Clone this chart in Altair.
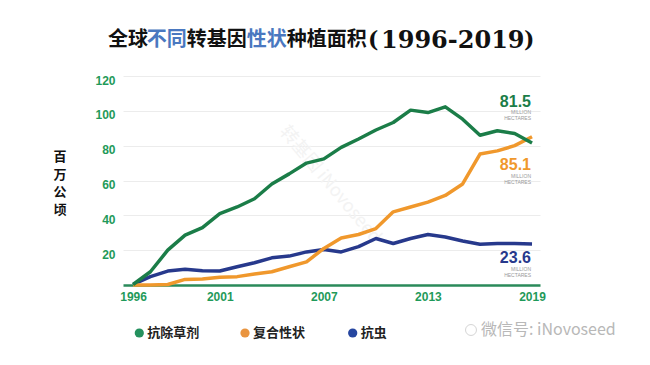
import altair as alt
import pandas as pd

# ---------------- data ----------------
years = list(range(1996, 2020))
herbicide = [0.3, 7.6, 20, 28.6, 33, 41, 44.8, 49.5, 58, 63.8, 70, 72.4, 79, 83.8,
             89, 93.3, 100.4, 99, 102.3, 95.2, 86, 88.6, 87, 81.5]
stacked = [0, 0, 0.3, 3.2, 3.4, 4.4, 4.8, 6.3, 7.6, 10.5, 13.3, 21, 27, 29, 32.4,
           42, 44.8, 47.6, 51.4, 58, 75.2, 77, 80, 85.1]
insect = [0.3, 4.8, 8, 9, 8.2, 8, 10.5, 12.8, 15.6, 16.6, 19, 20.4, 19, 22, 26.7,
          23.8, 26.7, 29, 27.6, 25.3, 23.4, 23.8, 23.8, 23.6]
series_names = ["抗除草剂", "复合性状", "抗虫"]
end_labels = ["81.5", "85.1", "23.6"]
x_ticks = [1996, 2001, 2007, 2013, 2019]
y_ticks = [20, 40, 60, 80, 100, 120]
y_title_chars = ["百", "万", "公", "顷"]

GREEN = "#1b7d48"
ORANGE = "#f0982c"
NAVY = "#27398c"
colors = [GREEN, ORANGE, NAVY]
dot_colors = ["#24915e", "#e9943f", "#2646a0"]
AXIS_GREEN = "#1f9a5a"
TITLE_BLUE = "#4a78c0"
CJK = "Noto Sans CJK SC"

W, H = 417, 209

df = pd.DataFrame({
    "year": years * 3,
    "value": herbicide + stacked + insect,
    "series": [series_names[0]] * len(years) + [series_names[1]] * len(years) + [series_names[2]] * len(years),
})

x_enc = alt.X("year:Q",
              scale=alt.Scale(domain=[1995.42, 2019.46], nice=False, zero=False),
              axis=alt.Axis(values=x_ticks, format="d", title=None, labelColor=AXIS_GREEN,
                            labelFont="Liberation Sans", labelFontWeight="bold", labelFontSize=12,
                            labelPadding=6, ticks=False, grid=False, domainColor="#2a8a5a",
                            domainWidth=2.5, labelFlush=False))
y_enc = alt.Y("value:Q",
              scale=alt.Scale(domain=[0, 120], nice=False),
              axis=alt.Axis(values=y_ticks, title=None, labelColor=AXIS_GREEN,
                            labelFont="Liberation Sans", labelFontWeight="bold", labelFontSize=12,
                            labelPadding=8, labelOffset=4, ticks=False, domain=False,
                            gridColor="#ececec", gridWidth=1))

base = alt.Chart(df)

def series_line(i):
    return base.transform_filter(alt.datum.series == series_names[i]).mark_line(
        color=colors[i], strokeWidth=3.5, strokeJoin="round").encode(x=x_enc, y=y_enc)

def txt(t, x, y, **kw):
    return alt.Chart(pd.DataFrame({"t": [t]})).mark_text(**kw).encode(
        text="t:N", x=alt.value(x), y=alt.value(y))

layers = []

# faint diagonal watermark
layers.append(txt("转基因 iNovoseed", 207, 109, angle=50, fontSize=18, color="#f3f3f3", font=CJK))

layers += [series_line(2), series_line(1), series_line(0)]

# end annotations
ann_y = [25.7, 89, 182]
for i in range(3):
    layers.append(txt(end_labels[i], 408, ann_y[i], align="right", baseline="middle", fontSize=16,
                      fontWeight="bold", font="Liberation Sans", color=colors[i]))
    layers.append(txt("MILLION", 408, ann_y[i] + 10.5, align="right", baseline="middle",
                      fontSize=5, color="#9a9a9a", font="Liberation Sans"))
    layers.append(txt("HECTARES", 408, ann_y[i] + 16.5, align="right", baseline="middle",
                      fontSize=5, color="#9a9a9a", font="Liberation Sans"))

# title segments
title_parts = [("全球", "#111111", -15), ("不同", TITLE_BLUE, 23.7), ("转基因", "#111111", 63.7),
               ("性状", TITLE_BLUE, 123.7), ("种植面积", "#111111", 163.7)]
for t, col, xp in title_parts:
    layers.append(txt(t, xp, -36, align="left", baseline="middle", fontSize=20, fontWeight="bold",
                      font=CJK, color=col))
layers.append(txt("(", 245, -36, align="left", baseline="middle", fontSize=22,
                  fontWeight="bold", font="DejaVu Serif", color="#111111"))
layers.append(txt("1996-2019", 258, -35, align="left", baseline="middle", fontSize=24,
                  fontWeight="bold", font="DejaVu Serif", color="#111111"))
layers.append(txt(")", 401, -36, align="left", baseline="middle", fontSize=22,
                  fontWeight="bold", font="DejaVu Serif", color="#111111"))

# y title (vertical, one character per row)
for k, ch in enumerate(y_title_chars):
    layers.append(txt(ch, -63, 81 + k * 17.5, align="center", baseline="middle", fontSize=13,
                      fontWeight="bold", font=CJK, color="#111111"))

# legend
leg_dot_x = [16.3, 122, 229.7]
for i in range(3):
    layers.append(alt.Chart(pd.DataFrame({"t": [series_names[i]]})).mark_point(
        shape="circle", filled=True, size=85, opacity=1, color=dot_colors[i]).encode(
        x=alt.value(leg_dot_x[i]), y=alt.value(257)))
    layers.append(txt(series_names[i], leg_dot_x[i] + 8, 257, align="left", baseline="middle",
                      fontSize=13, fontWeight="bold", font=CJK, color="#222222"))

# wechat watermark
layers.append(alt.Chart(pd.DataFrame({"t": ["i"]})).mark_point(
    shape="circle", filled=False, size=120, color="#c4c4c4", strokeWidth=1).encode(
    x=alt.value(348), y=alt.value(254)))
layers.append(txt("微信号: iNovoseed", 358, 254, align="left", baseline="middle", fontSize=16,
                  font=CJK, color="#b8b8b8"))

chart = alt.layer(*layers).properties(
    width=W, height=H,
    autosize=alt.AutoSizeParams(type="none"),
    padding={"left": 115, "top": 68, "right": 102, "bottom": 72},
    background="white",
).configure_view(stroke=None)

chart.save("out.html", embed_options={"renderer": "svg", "actions": False})
